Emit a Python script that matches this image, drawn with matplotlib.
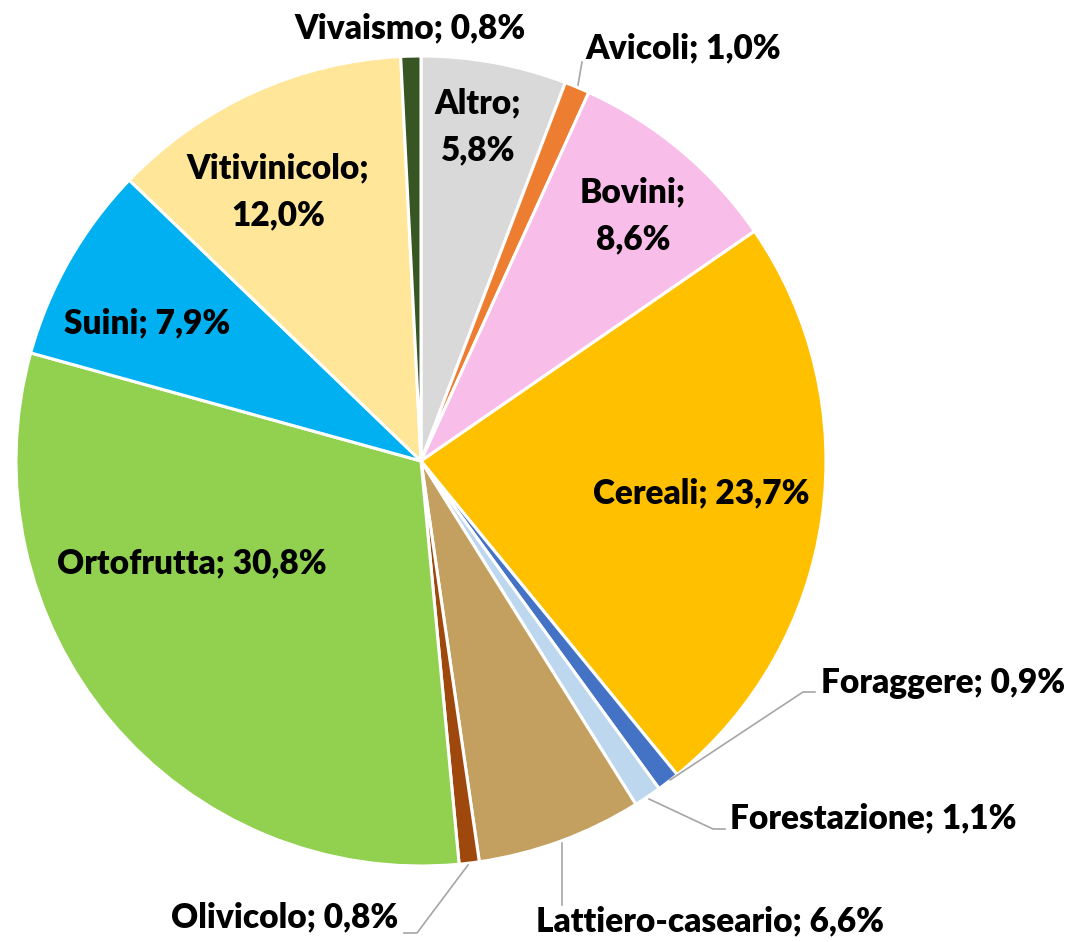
import matplotlib.pyplot as plt

# Quote per settore (%)
settori = ["Altro", "Avicoli", "Bovini", "Cereali", "Foraggere", "Forestazione",
           "Lattiero-caseario", "Olivicolo", "Ortofrutta", "Suini", "Vitivinicolo", "Vivaismo"]
quote = [5.8, 1.0, 8.6, 23.7, 0.9, 1.1, 6.6, 0.8, 30.8, 7.9, 12.0, 0.8]
colori = ["#D9D9D9", "#ED7D31", "#F9BDE9", "#FFC000", "#4472C4", "#BDD7EE",
          "#C4A060", "#9E480E", "#92D050", "#00B0F0", "#FFE699", "#375623"]

W, H = 1073, 942
fig = plt.figure(figsize=(W / 100, H / 100), dpi=100)
ax = fig.add_axes([0, 0, 1, 1])

cx, cy, R = 421, H - 461, 405
ax.pie(quote, colors=colori, startangle=90, counterclock=False, center=(cx, cy), radius=R,
       wedgeprops=dict(edgecolor='white', linewidth=2.2), frame=True)
ax.set_xlim(0, W)
ax.set_ylim(0, H)
ax.set_aspect('equal')
ax.axis('off')

def fmt(v):
    return ("%.1f" % v).replace('.', ',') + "%"

# posizione etichette (pixel, centro del testo) e se vanno a capo
pos_etichette = {
    "Altro": (478, 127, True), "Avicoli": (683, 48, False), "Bovini": (633, 216, True),
    "Cereali": (701, 493, False), "Foraggere": (943, 683, False), "Forestazione": (873, 818, False),
    "Lattiero-caseario": (710, 921, False), "Olivicolo": (285, 917, False),
    "Ortofrutta": (192, 563, False), "Suini": (147, 323, False), "Vitivinicolo": (278, 192, True),
    "Vivaismo": (410, 28, False),
}
for nome, v in zip(settori, quote):
    x, y, capo = pos_etichette[nome]
    sep = ";\n" if capo else "; "
    ax.text(x, H - y, nome + sep + fmt(v), ha='center', va='center', fontsize=24,
            fontweight='heavy', family='Lato', linespacing=1.6, color='black')

# linee guida
linee = [
    [(578, 85), (582, 62)],
    [(670, 780), (803, 692), (815, 692)],
    [(649, 799), (713, 829), (725, 829)],
    [(562, 843), (562, 905)],
    [(468, 865), (417, 933), (404, 933)],
]
for pts in linee:
    ax.plot([p[0] for p in pts], [H - p[1] for p in pts], color='#A6A6A6', lw=1.2)

fig.savefig("out.png", dpi=100)
